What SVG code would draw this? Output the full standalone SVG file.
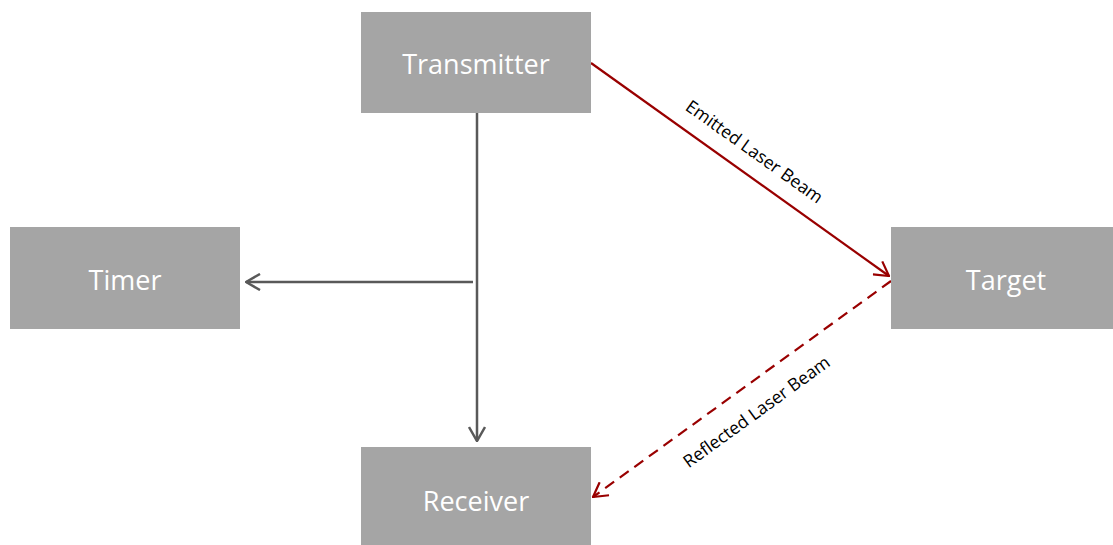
<svg xmlns="http://www.w3.org/2000/svg" width="1113" height="545" viewBox="0 0 1113 545">
<style>
.box{fill:#a5a5a5}
.lbl{fill:#ffffff;font-family:"Open Sans","Noto Sans",sans-serif;font-size:27px;text-anchor:middle;dominant-baseline:central}
.elbl{fill:#000000;font-family:"Open Sans","Noto Sans",sans-serif;font-size:17.5px;text-anchor:middle;dominant-baseline:central}
.gray{stroke:#595959;stroke-width:2.5;fill:none}
.red{stroke:#990000;stroke-width:2.2;fill:none}
</style>
<defs>
<marker id="ag" viewBox="0 0 16 18" refX="15" refY="9" markerWidth="16" markerHeight="18" markerUnits="userSpaceOnUse" orient="auto">
<path d="M1,1 L15,9 L1,17" fill="none" stroke="#595959" stroke-width="2.5"/>
</marker>
<marker id="ar" viewBox="0 0 16 18" refX="15" refY="9" markerWidth="16" markerHeight="18" markerUnits="userSpaceOnUse" orient="auto">
<path d="M1,1 L15,9 L1,17" fill="none" stroke="#990000" stroke-width="2.2"/>
</marker>
</defs>
<g id="connectors">
<line class="gray" x1="477" y1="113" x2="477" y2="441" marker-end="url(#ag)"/>
<line class="gray" x1="473" y1="282" x2="246" y2="282" marker-end="url(#ag)"/>
<line class="red" x1="591" y1="63" x2="889" y2="276" marker-end="url(#ar)"/>
<line class="red" x1="891" y1="281" x2="593" y2="497" stroke-dasharray="11,7" marker-end="url(#ar)"/>
<text class="elbl" transform="translate(755,151) rotate(35.5)">Emitted Laser Beam</text>
<text class="elbl" transform="translate(756,411) rotate(-36)">Reflected Laser Beam</text>
</g>
<g id="transmitter"><rect class="box" x="361" y="12" width="230" height="101"/><text class="lbl" x="476" y="63">Transmitter</text></g>
<g id="timer"><rect class="box" x="10" y="227" width="230" height="102"/><text class="lbl" x="125" y="279">Timer</text></g>
<g id="target"><rect class="box" x="891" y="227" width="222" height="102"/><text class="lbl" x="1006" y="279">Target</text></g>
<g id="receiver"><rect class="box" x="361" y="447" width="230" height="98"/><text class="lbl" x="476" y="500">Receiver</text></g>
</svg>
